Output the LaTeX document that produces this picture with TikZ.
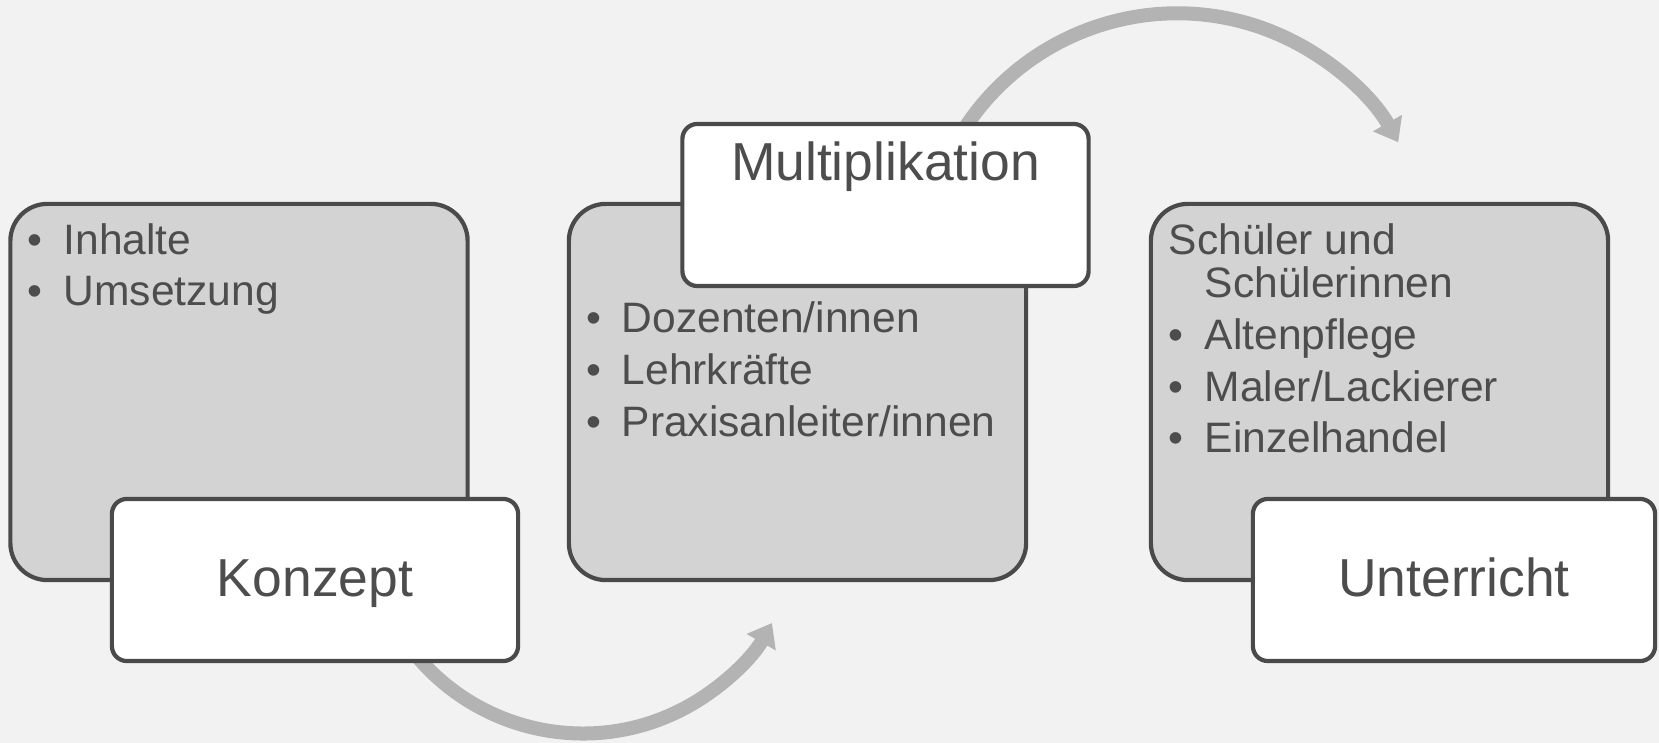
\documentclass[tikz,border=0pt]{standalone}
\usepackage{fontspec}
\setmainfont{Liberation Sans}
\usetikzlibrary{arrows.meta}
\definecolor{backgray}{HTML}{F2F2F2}
\definecolor{boxgray}{HTML}{D3D3D3}
\definecolor{edgegray}{HTML}{4A4A4A}
\definecolor{textgray}{HTML}{4D4D4D}
\definecolor{arrowgray}{HTML}{B3B3B3}
\begin{document}
\begin{tikzpicture}
[x=0.01cm,y=-0.01cm,
  graydecorate/.style={draw=edgegray,fill=boxgray,line width=1.2pt,rounded corners=0.37cm,inner sep=0pt},%
  whitedecorate/.style={draw=edgegray,fill=white,line width=1.2pt,rounded corners=0.15cm,inner sep=0pt},%
  itemdecorate/.style={anchor=base west,inner sep=0pt,text=textgray,font=\fontsize{12.1}{14}\selectfont},%
  bulletdecorate/.style={anchor=base,inner sep=0pt,text=textgray,font=\fontsize{12.1}{14}\selectfont},%
  titledecorate/.style={anchor=base,inner sep=0pt,text=textgray,font=\fontsize{15.2}{18}\selectfont},%
  arrowdecorate/.style={draw=arrowgray,line width=0.14cm,-{Triangle[length=0.22cm,width=0.32cm]}}]
%% background
\fill[backgray] (0,0) rectangle (1659,743);
\useasboundingbox (0,0) rectangle (1659,743);
%% gray boxes
\foreach \nodename/\x/\y/\w/\h in {g1/239/392/4.57/3.76,
  g2/797.5/392/4.57/3.76, g3/1379.5/392/4.57/3.76} {
  \node (\nodename) at (\x,\y) [graydecorate,minimum width=\w cm,minimum height=\h cm] {};
}
%% list items with bullets
\foreach \nodename/\nodelabel/\x/\y/\bx in {
  i1/Inhalte/63/255/35, i2/Umsetzung/63/306/35,
  d1/Dozenten\slash innen/621/333/594, d2/Lehrkräfte/621/385/594,
  d3/Praxisanleiter\slash innen/621/437/594,
  s2/Altenpflege/1204/350/1176, s3/Maler\slash Lackierer/1204/402/1176,
  s4/Einzelhandel/1204/453/1176} {
  \node (\nodename) at (\x,\y) [itemdecorate] {\nodelabel};
  \node (\nodename b) at (\bx,\y) [bulletdecorate] {•};
}
\node (s0) at (1168,255) [itemdecorate] {Schüler und};
\node (s1) at (1204,298) [itemdecorate] {Schülerinnen};
%% arrows
\coordinate (arcone) at (395,625);
\coordinate (arctwo) at (947,160);
\draw[arrowdecorate] (arcone) arc[start angle=150,end angle=29.4,radius=217];
\draw[arrowdecorate] (arctwo) arc[start angle=205,end angle=330.5,radius=254];
%% white boxes and titles
\foreach \nodename/\nodelabel/\x/\y/\w/\h/\ty in {
  konzept/Konzept/315/580/4.06/1.62/597,
  multi/Multiplikation/885.5/205/4.06/1.62/181,
  unterricht/Unterricht/1454/580/4.02/1.62/597} {
  \node (\nodename) at (\x,\y) [whitedecorate,minimum width=\w cm,minimum height=\h cm] {};
  \node (\nodename t) at (\x,\ty) [titledecorate] {\nodelabel};
}
\end{tikzpicture}
\end{document}
